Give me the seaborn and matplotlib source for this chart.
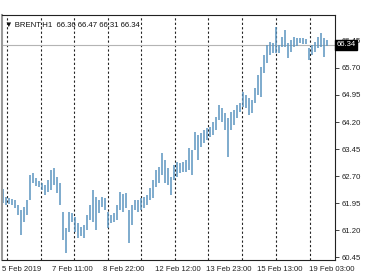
import numpy as np
import pandas as pd
import matplotlib
matplotlib.use("Agg")
import matplotlib.pyplot as plt
import seaborn as sns

# ---- data ----
highs = [62.34, 62.12, 62.09, 62.06, 62.03, 61.89, 61.76, 61.84, 62.03, 62.73,
         62.78, 62.64, 62.56, 62.51, 62.45, 62.59, 62.87, 62.92, 62.67, 62.51,
         61.70, 61.26, 61.70, 61.67, 61.56, 61.39, 61.28, 61.34, 61.62, 61.89,
         62.31, 62.12, 62.03, 62.12, 62.09, 61.70, 61.62, 61.67, 61.89, 62.26,
         62.20, 62.23, 61.76, 61.89, 62.03, 62.03, 62.09, 62.12, 62.17, 62.37,
         62.59, 62.87, 62.95, 63.34, 63.14, 62.92, 62.67, 63.01, 63.09, 63.06,
         63.09, 63.14, 63.48, 63.42, 63.92, 63.84, 63.89, 63.98, 64.03, 64.06,
         64.20, 64.34, 64.67, 64.59, 64.45, 64.31, 64.48, 64.53, 64.67, 64.73,
         65.03, 64.95, 64.87, 64.81, 65.14, 65.51, 65.73, 66.06, 66.34, 66.42,
         66.39, 66.84, 66.34, 66.56, 66.76, 66.39, 66.48, 66.56, 66.53, 66.53,
         66.53, 66.51, 66.26, 66.34, 66.42, 66.56, 66.67, 66.53, 66.47]
lows = [61.95, 61.89, 61.92, 61.89, 61.81, 61.62, 61.06, 61.42, 61.62, 62.03,
        62.51, 62.42, 62.39, 62.31, 62.17, 62.26, 62.31, 62.45, 62.23, 61.89,
        60.92, 60.56, 61.14, 61.42, 61.14, 60.98, 61.03, 60.98, 61.20, 61.48,
        61.42, 61.20, 61.67, 61.84, 61.76, 61.26, 61.39, 61.42, 61.48, 61.76,
        61.70, 61.81, 60.84, 61.34, 61.76, 61.70, 61.76, 61.81, 61.89, 62.03,
        62.09, 62.39, 62.51, 62.73, 62.51, 62.45, 62.17, 62.59, 62.67, 62.78,
        62.81, 62.81, 62.87, 62.73, 63.42, 63.14, 63.51, 63.62, 63.70, 63.78,
        63.84, 63.98, 64.26, 64.20, 63.98, 63.23, 63.98, 64.12, 64.31, 64.48,
        64.62, 64.59, 64.39, 64.45, 64.73, 64.95, 64.89, 65.56, 65.84, 66.06,
        66.12, 66.12, 66.12, 66.28, 66.28, 65.98, 66.14, 66.28, 66.31, 66.39,
        66.37, 66.37, 65.92, 66.06, 66.14, 66.26, 66.28, 66.01, 66.31]
last_price = 66.34
header = "\u25bc BRENT,H1  66.36 66.47 66.31 66.34"

y_ticks = [60.45, 61.20, 61.95, 62.70, 63.45, 64.20, 64.95, 65.70, 66.45]
x_tick_labels = ["5 Feb 2019", "7 Feb 11:00", "8 Feb 22:00", "12 Feb 12:00",
                 "13 Feb 23:00", "15 Feb 13:00", "19 Feb 03:00"]
x_tick_bars = [-0.33, 16.33, 33.33, 50.67, 67.67, 84.67, 102.0]
grid_bars = [1.33, 12.67, 23.67, 35.0, 46.0, 57.33, 68.33, 79.67, 91.0, 102.33]

df = pd.DataFrame({"bar": np.arange(len(highs)), "high": highs, "low": lows})

sns.set_style("white")
plt.rcParams["font.family"] = ["Liberation Sans", "DejaVu Sans"]

W, H = 371, 279
fig = plt.figure(figsize=(W / 100, H / 100), dpi=100)
ax = fig.add_axes([2 / W, (H - 260) / H, (335 - 2) / W, (260 - 15) / H])

# vertical dashed grid
for g in grid_bars:
    ax.axvline(g, color="#222222", lw=0.8, ls=(0, (2, 2)), zorder=1)

# bid line
ax.axhline(last_price, color="#b4b4b4", lw=0.8, zorder=1.5)

# HL bars
ax.vlines(df["bar"], df["low"], df["high"], color="#5b95c0", lw=1.1, zorder=2)

ax.set_xlim(-0.333, 110.667)
ax.set_ylim(60.37, 67.17)

ax.yaxis.tick_right()
ax.set_yticks(y_ticks)
ax.set_yticklabels([f"{v:.2f}" for v in y_ticks])
ax.set_xticks(x_tick_bars)
ax.set_xticklabels(x_tick_labels, ha="left")
ax.tick_params(axis="both", labelsize=5.6, colors="#222222", length=3,
               width=0.6, direction="out", pad=1.5)
ax.tick_params(axis="y", pad=2)

for side in ["top", "right", "bottom"]:
    ax.spines[side].set_color("#222222")
    ax.spines[side].set_linewidth(0.8)
ax.spines["left"].set_color("#999999")
ax.spines["left"].set_linewidth(1.5)

# header text
ax.text(0.009, 0.975, header, transform=ax.transAxes, fontsize=5.6,
        color="#111111", va="top", ha="left", zorder=5)

# last price box
ax.text(1.004, last_price, f"{last_price:.2f}",
        transform=ax.get_yaxis_transform(), fontsize=5.6, color="white",
        va="center", ha="left", zorder=10, clip_on=False,
        bbox=dict(boxstyle="square,pad=0.15", fc="black", ec="black"))

ax.set_xlabel("")
ax.set_ylabel("")
fig.savefig("out.png", dpi=100, facecolor="white")
